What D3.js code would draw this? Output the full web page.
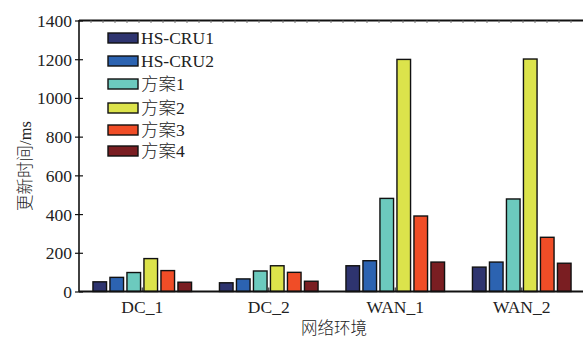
<!DOCTYPE html>
<html>
<head>
<meta charset="utf-8">
<script src="https://cdn.jsdelivr.net/npm/d3@7/dist/d3.min.js"></script>
<style>
  html, body { margin: 0; padding: 0; background: #fff; }
  svg { display: block; }
  text { font-family: "Liberation Serif", "Times New Roman", "Noto Sans CJK SC", serif; fill: #222; }
  .cjk { font-family: "Liberation Serif", "Noto Sans CJK SC", serif; font-weight: 300; }
</style>
</head>
<body>
<svg id="chart" width="584" height="343"></svg>
<script>
// Network environments and update time (ms) for each scheme
const categories = ["DC_1", "DC_2", "WAN_1", "WAN_2"];
const seriesNames = ["HS-CRU1", "HS-CRU2", "方案1", "方案2", "方案3", "方案4"];
const hsCru1 = [50, 45, 133, 126];
const hsCru2 = [73, 65, 159, 152];
const scheme1 = [98, 106, 481, 478];
const scheme2 = [170, 133, 1199, 1201];
const scheme3 = [108, 99, 390, 280];
const scheme4 = [48, 53, 152, 146];
const yTicks = [0, 200, 400, 600, 800, 1000, 1200, 1400];
const colors = ["#2e346f", "#2c63b1", "#6ccabe", "#dce34b", "#f04d27", "#7a1e22"];

const seriesValues = [hsCru1, hsCru2, scheme1, scheme2, scheme3, scheme4];

const svg = d3.select("#chart");
const mLeft = 79, mRight = 585, mTop = 20.5, mBottom = 291.5;

const x0 = d3.scaleBand().domain(categories).range([mLeft, mRight]).padding(0);
const x1 = d3.scaleBand().domain(d3.range(seriesNames.length))
  .range([0, 102]).paddingInner(0.2).paddingOuter(0.1);
const y = d3.scaleLinear().domain([0, 1400]).range([mBottom, mTop]);

// Bars
const groups = svg.append("g").selectAll("g")
  .data(categories)
  .join("g")
  .attr("transform", (d) => `translate(${x0(d) + x0.bandwidth() / 2 - 51},0)`);

groups.selectAll("rect")
  .data((d, i) => seriesValues.map((vals, s) => ({ s, v: vals[i] })))
  .join("rect")
  .attr("x", (d) => x1(d.s))
  .attr("width", x1.bandwidth())
  .attr("y", (d) => y(d.v))
  .attr("height", (d) => mBottom - y(d.v))
  .attr("fill", (d) => colors[d.s])
  .attr("stroke", "#111")
  .attr("stroke-width", 1.4);

// Small centre ticks on the category axis
svg.append("g").selectAll("line")
  .data(categories)
  .join("line")
  .attr("x1", (d) => x0(d) + x0.bandwidth() / 2)
  .attr("x2", (d) => x0(d) + x0.bandwidth() / 2)
  .attr("y1", mBottom)
  .attr("y2", mBottom - 4)
  .attr("stroke", "#555")
  .attr("stroke-width", 1.5);

// Y axis
const yAxis = d3.axisLeft(y).tickValues(yTicks).tickSize(4).tickPadding(3).tickFormat(d3.format("d"));
const yg = svg.append("g").attr("transform", `translate(${mLeft},0)`).call(yAxis);
yg.select(".domain").remove();
yg.selectAll(".tick line").attr("x2", 4).attr("x1", -4).attr("stroke", "#111").attr("stroke-width", 1.2);
yg.selectAll(".tick text").attr("font-size", 17.5).attr("dy", "0.34em")
  .style("font-family", "'Liberation Serif', serif").style("fill", "#222");

// X axis labels
const xAxis = d3.axisBottom(x0).tickSize(0).tickPadding(9);
const xg = svg.append("g").attr("transform", `translate(0,${mBottom})`).call(xAxis);
xg.select(".domain").remove();
xg.selectAll(".tick text").attr("font-size", 17.5)
  .style("font-family", "'Liberation Serif', serif").style("fill", "#222");

// Frame lines: left, bottom, top
svg.append("line").attr("x1", mLeft).attr("x2", mLeft).attr("y1", mTop - 0.5).attr("y2", mBottom + 0.5)
  .attr("stroke", "#111").attr("stroke-width", 1.6);
svg.append("line").attr("x1", mLeft).attr("x2", 583).attr("y1", mBottom).attr("y2", mBottom)
  .attr("stroke", "#111").attr("stroke-width", 2);
svg.append("line").attr("x1", mLeft).attr("x2", 583).attr("y1", mTop).attr("y2", mTop)
  .attr("stroke", "#111").attr("stroke-width", 2);

// Faint minor ticks under the top line
svg.append("g").selectAll("line")
  .data(d3.range(mLeft + 12, 583, 12))
  .join("line")
  .attr("x1", (d) => d).attr("x2", (d) => d)
  .attr("y1", mTop).attr("y2", mTop + 2.5)
  .attr("stroke", "#777").attr("stroke-width", 1);

// Legend
const legend = svg.append("g").attr("transform", "translate(108,33)");
const rowY = [0, 23, 46, 70, 92, 113];
seriesNames.forEach((name, i) => {
  const row = legend.append("g").attr("transform", `translate(0,${rowY[i]})`);
  row.append("rect").attr("x", 0).attr("y", 0).attr("width", 30).attr("height", 10)
    .attr("fill", colors[i]).attr("stroke", "#111").attr("stroke-width", 1.4);
  row.append("text").attr("x", 33).attr("y", 5).attr("dy", "0.36em")
    .attr("font-size", 17.5).attr("class", i >= 2 ? "cjk" : null)
    .text(name);
});

// Axis titles
svg.append("text")
  .attr("class", "cjk")
  .attr("transform", "translate(31,166) rotate(-90)")
  .attr("text-anchor", "middle")
  .attr("font-size", 16.5)
  .text("更新时间/ms");

svg.append("text")
  .attr("class", "cjk")
  .attr("x", 334).attr("y", 334)
  .attr("text-anchor", "middle")
  .attr("font-size", 16.5)
  .text("网络环境");
</script>
</body>
</html>
